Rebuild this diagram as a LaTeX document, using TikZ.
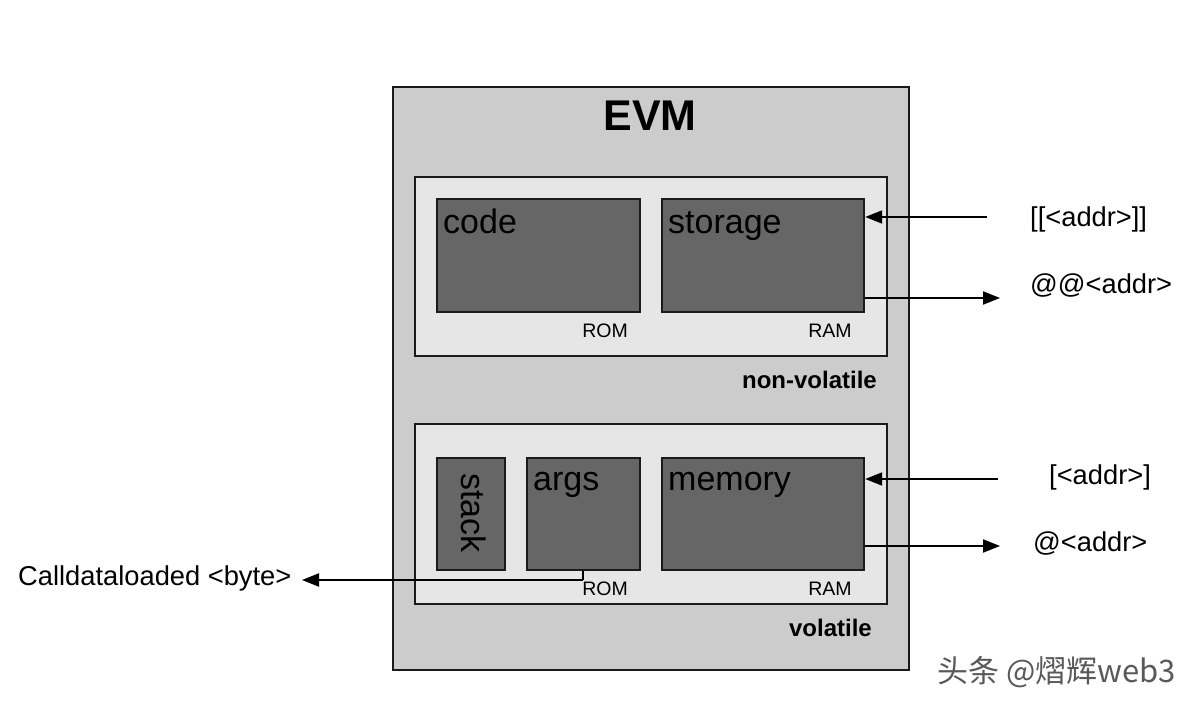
\documentclass[tikz,border=0pt]{standalone}
\usepackage{fontspec}
\setmainfont{Liberation Sans}
\newfontfamily\cjkfont{Noto Sans CJK SC}
\usetikzlibrary{arrows.meta}
\definecolor{outerg}{HTML}{CCCCCC}
\definecolor{innerg}{HTML}{E6E6E6}
\definecolor{darkg}{HTML}{666666}
\definecolor{edge}{HTML}{1A1A1A}
\tikzset{
  box/.style={draw=edge, line width=2.2pt, inner sep=0pt, anchor=north west},
  outerbox/.style={box, fill=outerg},
  groupbox/.style={box, fill=innerg},
  membox/.style={box, fill=darkg},
  big/.style={font=\fontsize{34}{40}\selectfont, inner sep=0pt, anchor=base west},
  small/.style={font=\fontsize{19.5}{22}\selectfont, inner sep=0pt, anchor=base},
  tag/.style={font=\bfseries\fontsize{24}{28}\selectfont, inner sep=0pt, anchor=base east},
  ext/.style={font=\fontsize{27.3}{32}\selectfont, inner sep=0pt, anchor=base west},
  arr/.style={draw=black, line width=2pt, arrows={-Stealth[length=17pt,width=13pt,inset=0pt]}},
  wire/.style={draw=black, line width=2pt},
}
\begin{document}
\begin{tikzpicture}[x=1pt,y=-1pt]
\useasboundingbox[fill=white] (0,0) rectangle (1200,709);
% boxes
\node[outerbox, minimum width=516pt, minimum height=583pt] (evm) at (392,86) {};
\node[font=\bfseries\fontsize{43}{50}\selectfont, inner sep=0pt, anchor=base] (title) at (650,130) {EVM};
\node[groupbox, minimum width=472pt, minimum height=179pt] (nv) at (414,176) {};
\node[groupbox, minimum width=472pt, minimum height=180pt] (vol) at (414,423) {};
\node[membox, minimum width=203pt, minimum height=113pt] (code) at (436,198) {};
\node[membox, minimum width=202pt, minimum height=113pt] (storage) at (661,198) {};
\node[membox, minimum width=68pt, minimum height=112pt] (stack) at (436,457) {};
\node[membox, minimum width=113pt, minimum height=112pt] (args) at (526,457) {};
\node[membox, minimum width=202pt, minimum height=112pt] (memory) at (661,457) {};
% labels
\node[big] (codet) at (443,233) {code};
\node[big] (storaget) at (668,233) {storage};
\node[big] (argst) at (533,490) {args};
\node[big] (memoryt) at (668,490) {memory};
\node[big, rotate=-90] (stackt) at (461,473) {stack};
\node[small] (rom1) at (605,337) {ROM};
\node[small] (ram1) at (830,337) {RAM};
\node[small] (rom2) at (605,595) {ROM};
\node[small] (ram2) at (830,595) {RAM};
\node[tag] (nvt) at (877,388) {non-volatile};
\node[tag] (volt) at (872,636) {volatile};
% external labels
\node[ext] (l1) at (1030,226) {[[<addr>]]};
\node[ext] (l2) at (1030,293) {@@<addr>};
\node[ext] (l3) at (1049,484) {[<addr>]};
\node[ext] (l4) at (1033,551) {@<addr>};
\node[ext] (l5) at (18,585) {Calldataloaded <byte>};
% connectors
\coordinate (s1) at (987,217);
\coordinate (e2) at (1000,298);
\coordinate (s3) at (998,479);
\coordinate (e4) at (1000,546);
\coordinate (bend) at (583,580);
\coordinate (e5) at (302,580);
\draw[arr] (s1) -- (s1 -| storage.east);
\draw[arr] (e2 -| storage.east) -- (e2);
\draw[arr] (s3) -- (s3 -| memory.east);
\draw[arr] (e4 -| memory.east) -- (e4);
\draw[wire] (bend |- args.south) -- (bend);
\draw[arr] (bend) -- (e5);
% watermark
\node[font=\cjkfont\fontsize{31}{36}\selectfont, text=black!65, inner sep=0pt, anchor=west] (wm) at (937,672) {头条 @熠辉web3};
\end{tikzpicture}
\end{document}
